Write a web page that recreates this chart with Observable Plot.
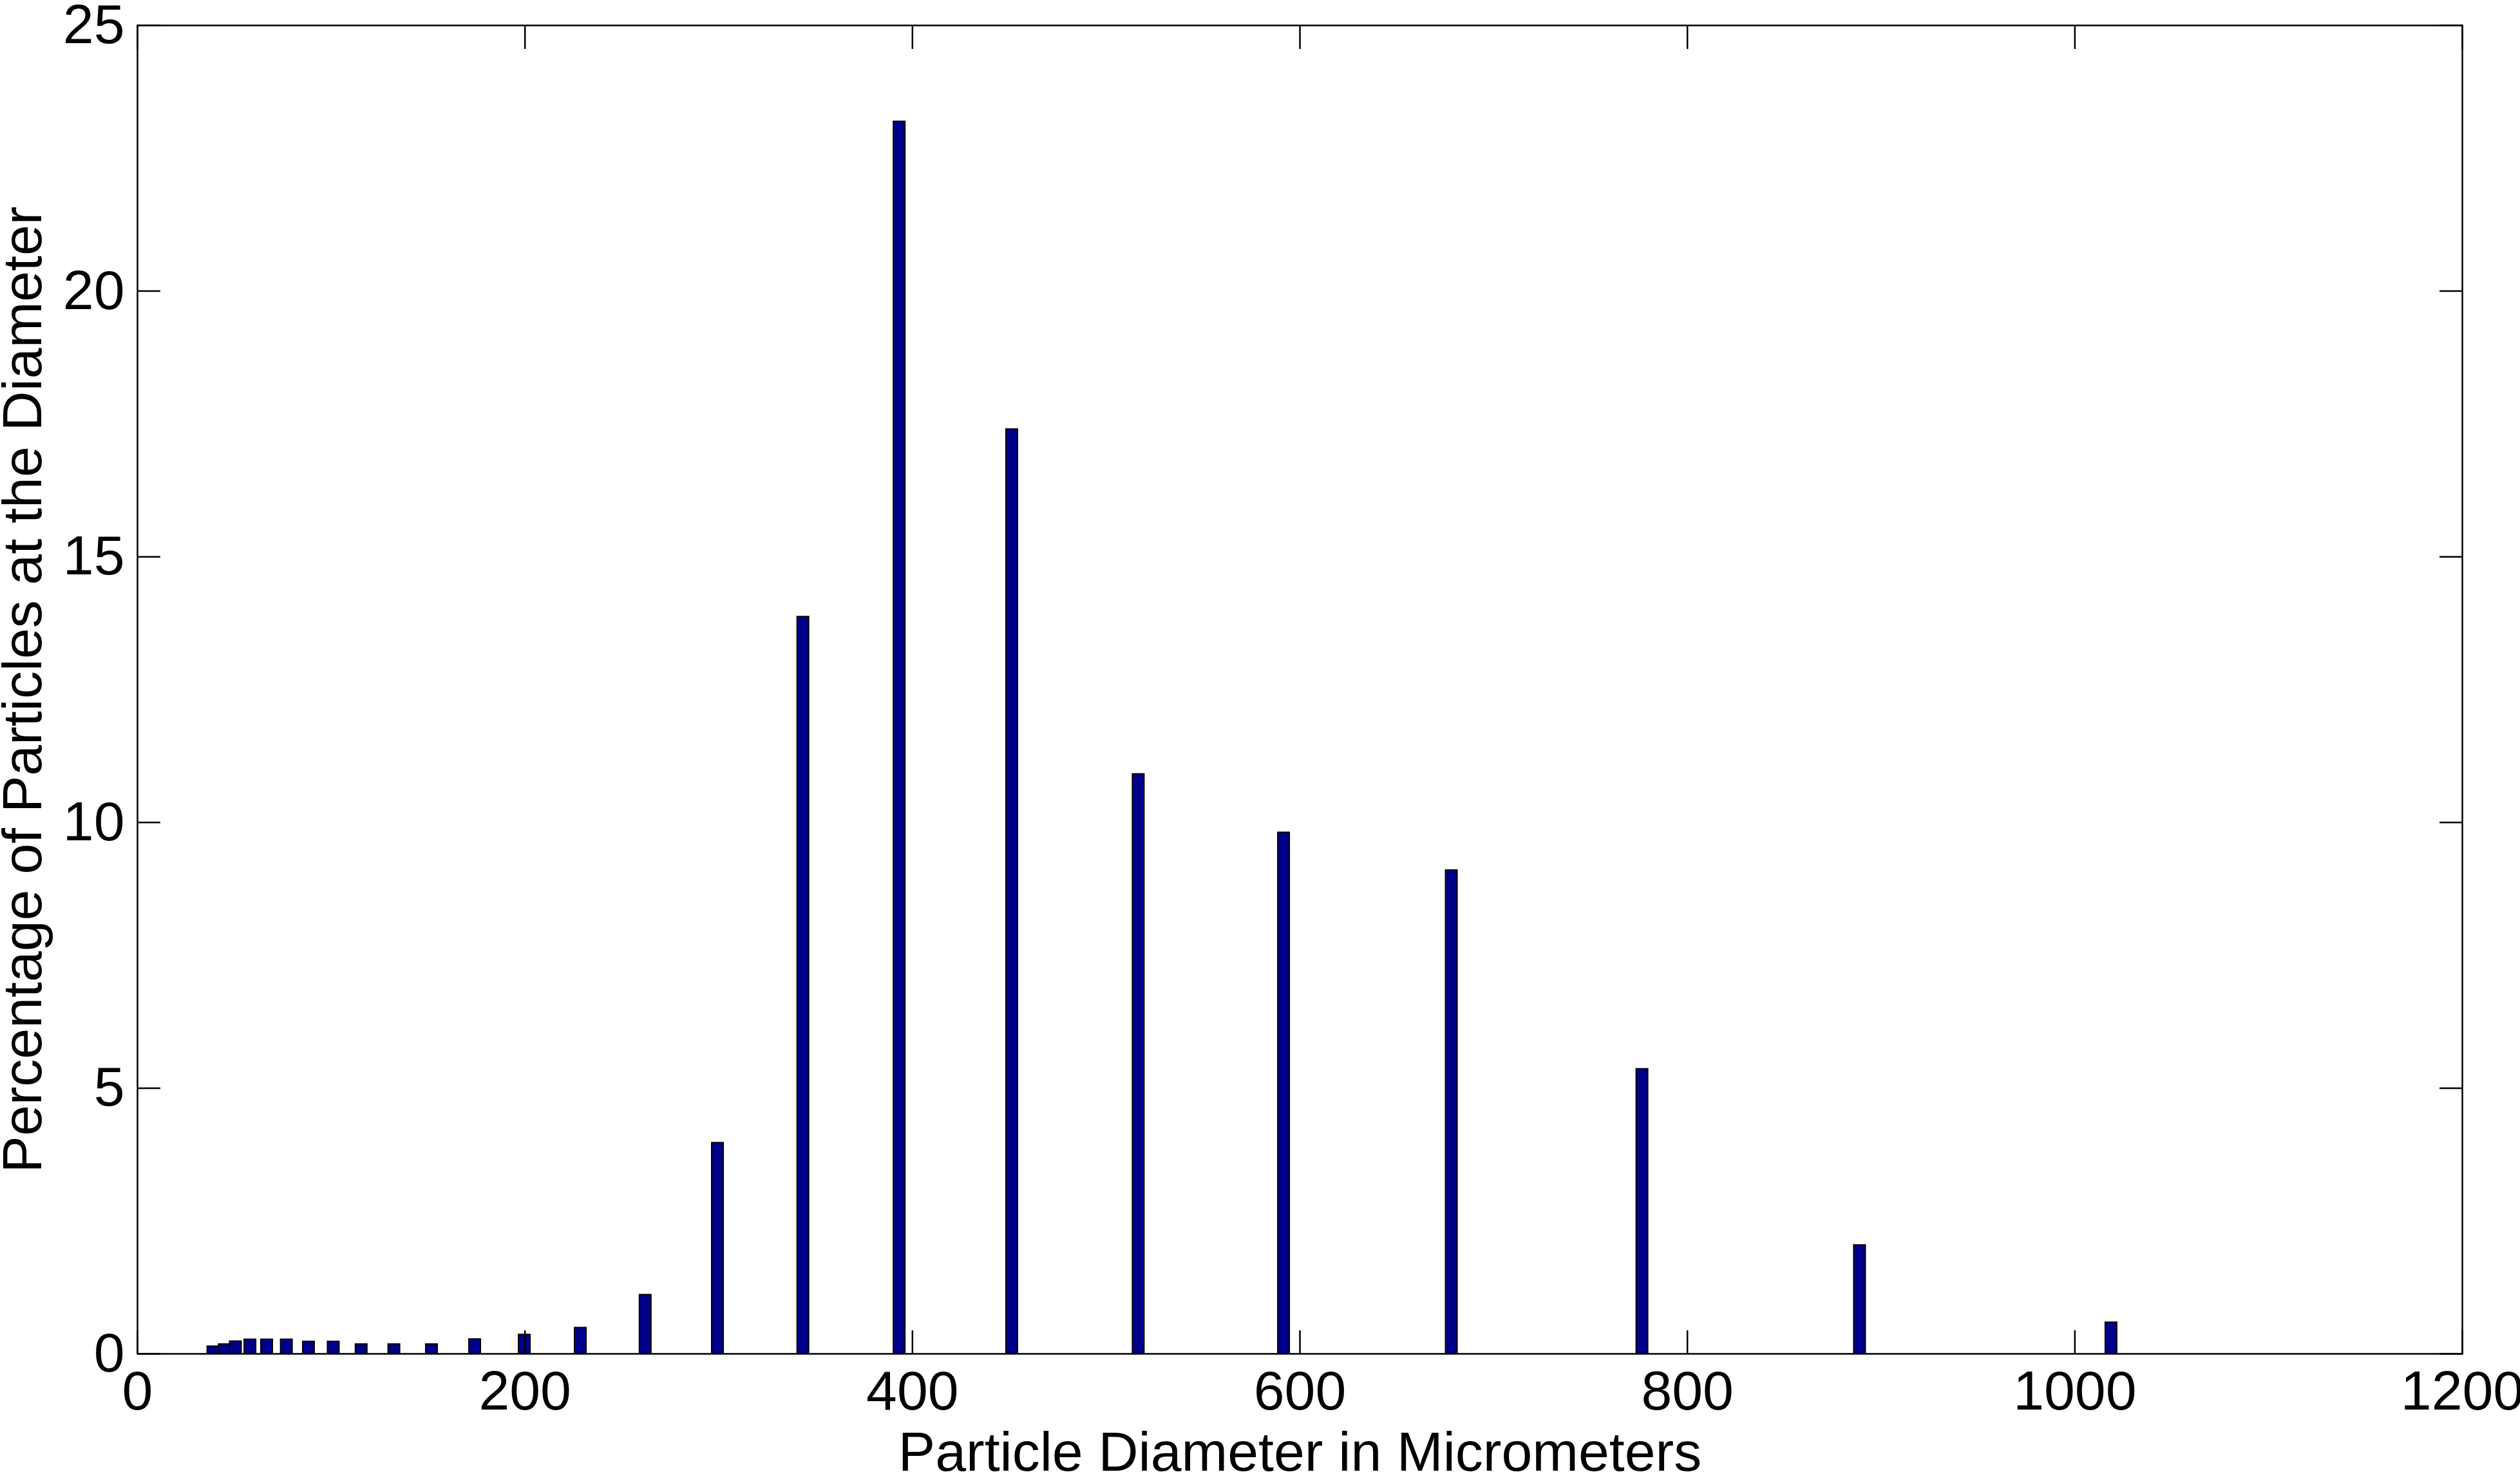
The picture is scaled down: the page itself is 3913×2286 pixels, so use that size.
<!DOCTYPE html>
<html>
<head>
<meta charset="utf-8">
<script src="https://cdn.jsdelivr.net/npm/d3@7"></script>
<script src="https://cdn.jsdelivr.net/npm/@observablehq/plot@0.6"></script>
<style>
html, body { margin: 0; padding: 0; background: #ffffff; }
</style>
</head>
<body>
<div id="chart"></div>
<script>
// Particle diameters (micrometers)
const diameters = [39.1, 45.0, 50.7, 58.2, 66.8, 77.0, 88.4, 101.2, 115.6, 132.5, 151.9, 174.2, 199.8, 228.7, 262.2, 299.5, 343.6, 393.3, 451.4, 516.7, 591.7, 678.3, 776.7, 889.0, 1018.8];
// Percentage of particles at each diameter
const percentages = [0.14, 0.18, 0.235, 0.27, 0.27, 0.27, 0.23, 0.23, 0.18, 0.18, 0.18, 0.275, 0.36, 0.49, 1.11, 3.97, 13.87, 23.19, 17.40, 10.91, 9.81, 9.10, 5.36, 2.045, 0.59];

const xTicks = [0, 200, 400, 600, 800, 1000, 1200];
const yTicks = [0, 5, 10, 15, 20, 25];
const xLabel = "Particle Diameter in Micrometers";
const yLabel = "Percentage of Particles at the Diameter";

const data = diameters.map((d, i) => ({d, p: percentages[i]}));
const plain = (v) => String(v);

const chart = Plot.plot({
  width: 3913,
  height: 2286,
  marginLeft: 213,
  marginRight: 90,
  marginTop: 39,
  marginBottom: 184,
  style: {
    fontFamily: "'Liberation Sans', Arial, sans-serif",
    fontSize: "86px",
    background: "#ffffff",
    color: "#000000"
  },
  x: {domain: [0, 1200]},
  y: {domain: [0, 25]},
  marks: [
    Plot.rectY(data, {
      x1: "d", x2: "d", y1: 0, y2: "p",
      insetLeft: -9, insetRight: -9,
      fill: "#00008a", stroke: "#000000", strokeWidth: 2
    }),
    Plot.frame({stroke: "#000000", strokeWidth: 2.5}),
    Plot.axisX(xTicks, {
      anchor: "bottom", tickSize: -36, tickPadding: 61, strokeWidth: 2.5,
      tickFormat: plain,
      label: xLabel, labelAnchor: "center", labelArrow: "none", labelOffset: 181
    }),
    Plot.axisX(xTicks, {
      anchor: "top", tickSize: -36, strokeWidth: 2.5, tickFormat: () => "", label: null
    }),
    Plot.axisY(yTicks, {
      anchor: "left", tickSize: -36, tickPadding: 56, strokeWidth: 2.5,
      tickFormat: plain,
      label: yLabel, labelAnchor: "center", labelArrow: "none", labelOffset: 211
    }),
    Plot.axisY(yTicks, {
      anchor: "right", tickSize: -36, strokeWidth: 2.5, tickFormat: () => "", label: null
    })
  ]
});

document.getElementById("chart").appendChild(chart);
</script>
</body>
</html>
